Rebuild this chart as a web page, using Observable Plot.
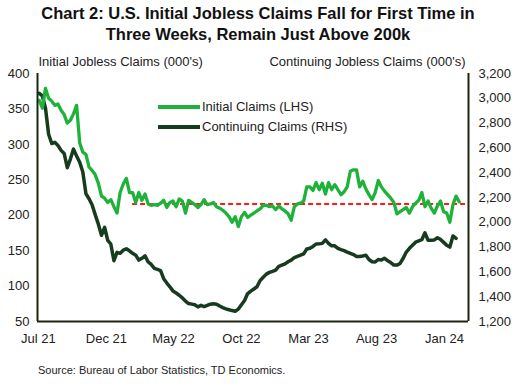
<!DOCTYPE html>
<html>
<head>
<meta charset="utf-8">
<script src="https://cdn.jsdelivr.net/npm/d3@7"></script>
<script src="https://cdn.jsdelivr.net/npm/@observablehq/plot@0.6"></script>
<style>
  html, body { margin: 0; padding: 0; background: #fff; }
  body { width: 516px; height: 386px; position: relative; overflow: hidden; font-family: "Liberation Sans", Arial, sans-serif; color: #222; }
  #title { position: absolute; left: 0; top: 3px; width: 516px; text-align: center; font-weight: bold; font-size: 16.5px; line-height: 21px; color: #111; }
  #chart { position: absolute; left: 0; top: 50px; }
  #legend { position: absolute; left: 158px; top: 97px; font-size: 13px; line-height: 20px; }
  #legend div { display: flex; align-items: center; }
  #legend span.sw { display: inline-block; width: 42px; height: 3.4px; margin-right: 2px; }
  #source { position: absolute; left: 38px; top: 364px; font-size: 11px; color: #222; }
</style>
</head>
<body>
<div id="title">Chart 2: U.S. Initial Jobless Claims Fall for First Time in<br>Three Weeks, Remain Just Above 200k</div>
<div id="chart"></div>
<div id="legend"></div>
<div id="source">Source: Bureau of Labor Statistics, TD Economics.</div>
<script>
// ---- data (weekly, starting week ending Jul 3, 2021) ----
const firstWeek = "2021-07-03";
const initialClaims = [
  362, 351, 379, 365, 361, 355, 357, 348, 342, 330,
  334, 343, 355, 302, 289, 286, 268, 263, 257, 245,
  227, 224, 218, 222, 212, 203, 232, 244, 252, 232,
  232, 218, 232, 221, 230, 216, 214, 215, 214, 217,
  221, 211, 218, 220, 212, 223, 220, 203, 221, 218,
  215, 211, 215, 222, 215, 216, 218, 212, 210, 207,
  203, 198, 190, 198, 184, 198, 204, 197, 200, 203,
  206, 209, 214, 214, 212, 213, 208, 213, 209, 206,
  202, 193, 212, 216, 217, 220, 240, 240, 235, 246,
  236, 245, 230, 246, 236, 243, 236, 229, 233, 240,
  262, 264, 264, 240, 248, 237, 229, 222, 232, 249,
  240, 234, 229, 224, 218, 202, 205, 208, 211, 203,
  212, 217, 221, 232, 212, 220, 210, 203, 213, 220,
  205, 203, 190, 215, 227, 219
];
const continuingClaims = [
  3040, 3020, 2920, 2710, 2635, 2645, 2620, 2580, 2555, 2440,
  2510, 2590, 2535, 2485, 2405, 2230, 2190, 2140, 2060, 1985,
  1895, 1960, 1855, 1825, 1690, 1758, 1750, 1775, 1786, 1770,
  1750, 1735, 1695, 1710, 1730, 1680, 1660, 1628, 1620, 1610,
  1545, 1510, 1480, 1445, 1430, 1412, 1390, 1365, 1345, 1340,
  1335, 1318, 1330, 1320, 1330, 1340, 1343, 1340, 1325, 1312,
  1302, 1295, 1288, 1283, 1300, 1335, 1370, 1425, 1445, 1462,
  1480, 1530, 1557, 1582, 1596, 1605, 1615, 1645, 1655, 1665,
  1682, 1695, 1715, 1725, 1735, 1745, 1785, 1790, 1805, 1825,
  1826, 1830, 1858, 1830, 1810, 1810, 1790, 1780, 1772, 1760,
  1750, 1740, 1725, 1725, 1728, 1735, 1700, 1682, 1680, 1700,
  1695, 1710, 1690, 1675, 1655, 1655, 1668, 1710, 1760, 1790,
  1815, 1840, 1850, 1860, 1915, 1855, 1855, 1858, 1875, 1862,
  1838, 1815, 1800, 1890, 1870
];
const benchmarkLevel = 216;          // reference level (000's)
const benchmarkStart = "2022-01-29";
const xDomain = ["2021-06-29", "2024-02-24"];
const xTickDates = ["2021-07-01", "2021-12-01", "2022-05-01", "2022-10-01", "2023-03-01", "2023-08-01", "2024-01-01"];
const leftDomain = [50, 400];
const leftTicks = [50, 100, 150, 200, 250, 300, 350, 400];
const rightDomain = [1200, 3200];
const rightTicks = [1200, 1400, 1600, 1800, 2000, 2200, 2400, 2600, 2800, 3000, 3200];
const seriesNames = ["Initial Claims (LHS)", "Continuing Claims (RHS)"];
const colors = ["#1fb23a", "#173b1f"];

// ---- build ----
const parse = d3.utcParse("%Y-%m-%d");
const start = parse(firstWeek);
const weekDate = i => d3.utcDay.offset(start, 7 * i);
const toLeft = v => leftDomain[0] + (v - rightDomain[0]) * (leftDomain[1] - leftDomain[0]) / (rightDomain[1] - rightDomain[0]);
const fromLeft = v => rightDomain[0] + (v - leftDomain[0]) * (rightDomain[1] - rightDomain[0]) / (leftDomain[1] - leftDomain[0]);

const initRows = initialClaims.map((v, i) => ({date: weekDate(i), value: v}));
const contRows = continuingClaims.map((v, i) => ({date: weekDate(i), value: toLeft(v)}));
const xd = xDomain.map(parse);
const fmtComma = d3.format(",");

const chart = Plot.plot({
  width: 516,
  height: 300,
  marginLeft: 37,
  marginRight: 48,
  marginTop: 23,
  marginBottom: 29,
  style: {fontFamily: "'Liberation Sans', Arial, sans-serif", fontSize: "13px", color: "#222", background: "#fff", overflow: "visible"},
  x: {type: "utc", domain: xd},
  y: {domain: leftDomain},
  marks: [
    Plot.ruleY([benchmarkLevel], {x1: parse(benchmarkStart), x2: xd[1], stroke: "#ff1a1a", strokeWidth: 2, strokeDasharray: "5,3"}),
    Plot.line(contRows, {x: "date", y: "value", stroke: colors[1], strokeWidth: 3.5, strokeLinejoin: "round"}),
    Plot.line(initRows, {x: "date", y: "value", stroke: colors[0], strokeWidth: 3.3, strokeLinejoin: "round"}),
    Plot.ruleX([xd[0]], {stroke: "#1c2412", strokeWidth: 2}),
    Plot.ruleX([xd[1]], {stroke: "#1c2412", strokeWidth: 2}),
    Plot.ruleY([leftDomain[0]], {stroke: "#1c2412", strokeWidth: 2.2}),
    Plot.axisY({ticks: leftTicks, tickSize: 0, tickPadding: 8, label: null, fill: "#222"}),
    Plot.axisY({anchor: "right", ticks: rightTicks.map(toLeft), tickFormat: d => fmtComma(Math.round(fromLeft(d))), tickSize: 0, tickPadding: 10, label: null, fill: "#222"}),
    Plot.axisX({ticks: xTickDates.map(parse), tickFormat: d3.utcFormat("%b %y"), tickSize: 0, tickPadding: 12, label: null, fill: "#222"}),
    Plot.text(["Initial Jobless Claims (000's)"], {frameAnchor: "top-left", dx: 1, dy: -8, lineAnchor: "bottom", text: d => d, fontSize: 13, fill: "#222"}),
    Plot.text(["Continuing Jobless Claims (000's)"], {frameAnchor: "top-right", dx: -3, dy: -8, lineAnchor: "bottom", text: d => d, fontSize: 13, fill: "#222"})
  ]
});
document.getElementById("chart").appendChild(chart);

const legend = document.getElementById("legend");
seriesNames.forEach((name, i) => {
  const row = document.createElement("div");
  const sw = document.createElement("span");
  sw.className = "sw";
  sw.style.background = colors[i];
  row.appendChild(sw);
  row.appendChild(document.createTextNode(name));
  legend.appendChild(row);
});
</script>
</body>
</html>
